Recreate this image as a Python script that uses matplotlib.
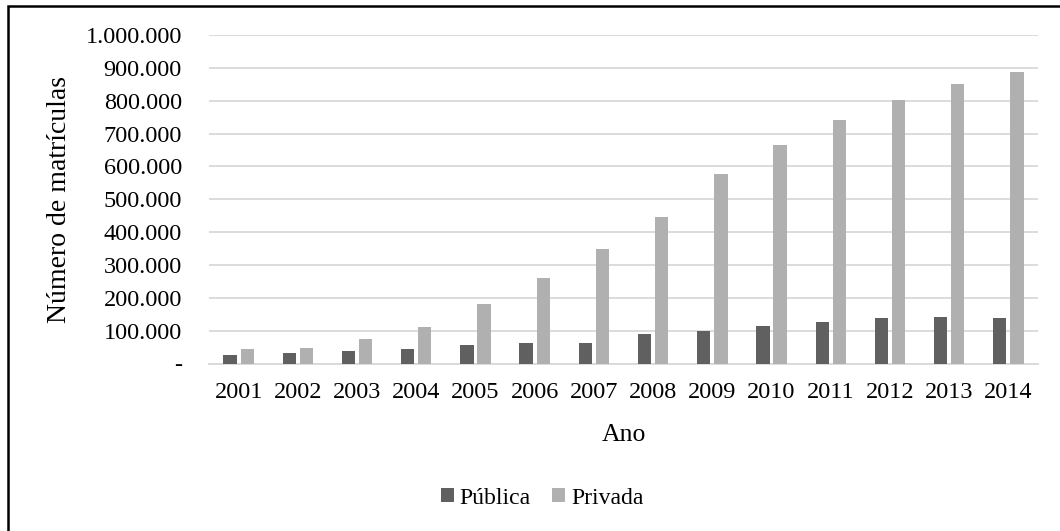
import numpy as np
import matplotlib
matplotlib.use("Agg")
import matplotlib.pyplot as plt
from matplotlib.patches import Rectangle
from matplotlib.ticker import FuncFormatter, MultipleLocator

plt.rcParams['font.family'] = ['Liberation Serif', 'DejaVu Serif']

# Dados
anos = ['2001', '2002', '2003', '2004', '2005', '2006', '2007',
        '2008', '2009', '2010', '2011', '2012', '2013', '2014']
publica = [25000, 31000, 38000, 45000, 56000, 62000, 63500,
           89000, 99500, 114000, 126000, 138000, 141000, 140000]
privada = [43000, 47000, 75000, 111000, 180000, 261000, 348000,
           446000, 576000, 665000, 741000, 803000, 852000, 886000]

cor_publica = '#606060'
cor_privada = '#b0b0b0'

fig = plt.figure(figsize=(10.6, 5.31), dpi=100)
ax = fig.add_axes([209 / 1060, 1 - 363.5 / 531, (1038 - 209) / 1060, (363.5 - 35) / 531])

x = np.arange(len(anos))
larg = 0.225
ax.bar(x - 0.145, publica, larg, color=cor_publica, label='Pública', zorder=3)
ax.bar(x + 0.145, privada, larg, color=cor_privada, label='Privada', zorder=3)

ax.set_xlim(-0.5, len(anos) - 0.5)
ax.set_ylim(0, 1000000)
ax.yaxis.set_major_locator(MultipleLocator(100000))


def fmt(v, pos):
    if v == 0:
        return '-'
    return f"{v:,.0f}".replace(',', '.')


ax.yaxis.set_major_formatter(FuncFormatter(fmt))
ax.set_xticks(x)
ax.set_xticklabels(anos)
ax.tick_params(axis='both', length=0, labelsize=17.5)
ax.tick_params(axis='y', pad=19.5)
ax.tick_params(axis='x', pad=13)

ax.grid(axis='y', color='#d9d9d9', linewidth=1.3, zorder=0)
for s in ['top', 'right', 'left']:
    ax.spines[s].set_visible(False)
ax.spines['bottom'].set_color('#d9d9d9')
ax.spines['bottom'].set_linewidth(1.3)

ax.set_ylabel('Número de matrículas', fontsize=20)
ax.yaxis.set_label_coords((72 - 209) / 829, 0.5)
ax.set_xlabel('Ano', fontsize=18.5)
ax.xaxis.set_label_coords(0.5, -0.185)

fig.legend(loc='center', bbox_to_anchor=(542 / 1060, 1 - 498 / 531), ncol=2,
           frameon=False, fontsize=17, handlelength=0.55, handleheight=0.55,
           handletextpad=0.25, columnspacing=0.9)

# moldura da figura (cortada à direita e embaixo)
fig.patches.append(Rectangle((8 / 1060, -0.2), 1.2, 1.2 - 6 / 531, transform=fig.transFigure,
                             fill=False, edgecolor='black', linewidth=1.8))

fig.savefig('out.png', dpi=100)
